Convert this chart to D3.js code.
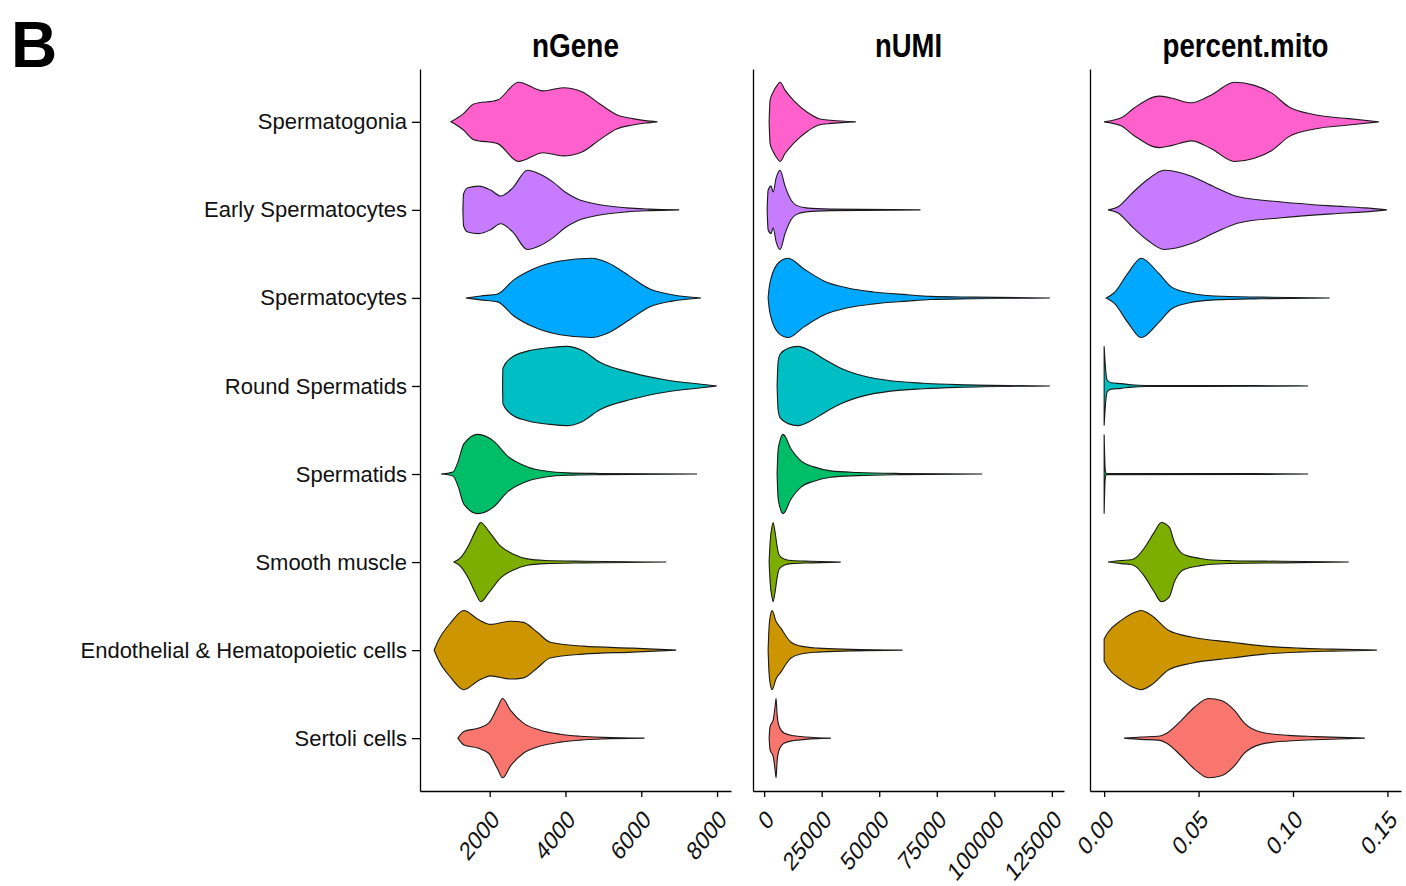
<!DOCTYPE html>
<html lang="en">
<head>
<meta charset="utf-8">
<style type="text/css">
    body { margin: 0; background: #fff; }
    svg { font-family: "Liberation Sans", Arial, sans-serif; }
    .violin { stroke: #1a1a1a; stroke-width: 1.1px; }
    .axis path, .axis line { stroke: #000; stroke-width: 1.3px; }
    .axis text { fill: #111; font-size: 22px; font-family: "Liberation Sans", Arial, sans-serif; }
    .axis.x text { font-size: 26px; }
    .title { font-weight: bold; font-family: "Liberation Sans Narrow", "Liberation Sans", Arial, sans-serif; }
</style>
</head>
<body>
<svg width="1406" height="886"></svg>
<script src="https://d3js.org/d3.v7.min.js"></script>
<script type="text/javascript">
    // cell types, top to bottom
    var categories = ["Spermatogonia", "Early Spermatocytes", "Spermatocytes", "Round Spermatids",
        "Spermatids", "Smooth muscle", "Endothelial & Hematopoietic cells", "Sertoli cells"];
    var colors = ["#FF61CC", "#C77CFF", "#00A9FF", "#00BFC4", "#00BE67", "#7CAE00", "#CD9600", "#F8766D"];

    var panelTitles = ["nGene", "nUMI", "percent.mito"];
    var nGeneTicks = [2000, 4000, 6000, 8000];
    var nUMITicks = [0, 25000, 50000, 75000, 100000, 125000];
    var mitoTicks = [0, 0.05, 0.10, 0.15];

    // violin outlines: [value, relative half-width]
    var nGeneProfiles = [
        [[979,0],[1300,0.2],[1581,0.45],[2209,0.55],[2759,1.0],[3414,0.78],[3937,0.86],[4435,0.76],[4906,0.45],[5351,0.18],[5770,0.08],[6100,0.03],[6424,0]],
        [[1293,0],[1310,0.4],[1424,0.56],[1712,0.6],[2026,0.5],[2288,0.35],[2602,0.55],[2995,1.0],[3335,0.9],[3675,0.7],[3990,0.45],[4304,0.28],[4906,0.13],[5613,0.05],[6215,0.02],[7000,0]],
        [[1372,0],[1764,0.05],[2209,0.1],[2628,0.45],[3152,0.73],[3859,0.93],[4697,1.0],[5090,0.9],[5692,0.55],[6215,0.23],[6817,0.08],[7576,0]],
        [[2340,0],[2350,0.45],[2550,0.7],[2995,0.88],[3597,0.97],[4042,1.0],[4435,0.9],[4906,0.6],[5770,0.33],[6660,0.15],[7524,0.05],[7995,0]],
        [[717,0],[1031,0.05],[1162,0.3],[1319,0.76],[1686,1.0],[2105,0.83],[2471,0.45],[2995,0.18],[3518,0.07],[4042,0.03],[4906,0.015],[7472,0]],
        [[1057,0],[1241,0.12],[1450,0.43],[1634,0.8],[1764,1.0],[1974,0.78],[2288,0.4],[2628,0.2],[2995,0.08],[3466,0.04],[4500,0.02],[6660,0]],
        [[534,0],[639,0.23],[979,0.7],[1319,1.0],[1686,0.78],[2026,0.65],[2550,0.73],[2890,0.7],[3257,0.45],[3597,0.2],[4461,0.1],[5770,0.05],[6922,0]],
        [[1162,0],[1319,0.17],[1686,0.25],[1974,0.38],[2209,0.78],[2340,1.0],[2550,0.7],[2890,0.38],[3335,0.2],[3859,0.1],[4382,0.05],[5000,0.02],[6084,0]]
    ];
    var nUMIProfiles = [
        [[2162,0],[2595,0.55],[3892,0.75],[5622,0.92],[6920,1.0],[9082,0.8],[12975,0.53],[19030,0.23],[23787,0.08],[28977,0.04],[39790,0]],
        [[1300,0],[1730,0.5],[3030,0.6],[3890,0.45],[5190,0.8],[6920,1.0],[9080,0.6],[11680,0.25],[13840,0.12],[18165,0.05],[28980,0.02],[67900,0]],
        [[1730,0],[2162,0.25],[3027,0.5],[6488,0.9],[10380,1.0],[17300,0.73],[25950,0.43],[36330,0.25],[47575,0.15],[62280,0.08],[72230,0.04],[90825,0.02],[124130,0]],
        [[5620,0],[6055,0.6],[6920,0.8],[10380,0.95],[14705,1.0],[20330,0.88],[26000,0.68],[33300,0.45],[43250,0.25],[54930,0.13],[69200,0.07],[83900,0.035],[124130,0]],
        [[5620,0],[6055,0.6],[6920,0.85],[8220,1.0],[11680,0.63],[16000,0.33],[21625,0.18],[28980,0.08],[40655,0.04],[59250,0.015],[94720,0]],
        [[2160,0],[2600,0.5],[3460,0.9],[3890,1.0],[4760,0.75],[5620,0.4],[6490,0.18],[8650,0.08],[11680,0.04],[20330,0.02],[33300,0]],
        [[1730,0],[2160,0.6],[3030,0.95],[3460,1.0],[5190,0.72],[7350,0.55],[9515,0.35],[11680,0.2],[16000,0.1],[23355,0.05],[37630,0.02],[60120,0]],
        [[2160,0],[2600,0.3],[3890,0.45],[4760,0.8],[5190,1.0],[5620,0.6],[6490,0.3],[8650,0.13],[12975,0.06],[18165,0.03],[28980,0]]
    ];
    var mitoProfiles = [
        [[0,0],[0.009,0.1],[0.0159,0.35],[0.0292,0.65],[0.0356,0.6],[0.0462,0.48],[0.0568,0.68],[0.069,1.0],[0.0796,0.92],[0.0886,0.73],[0.0977,0.38],[0.1115,0.18],[0.1295,0.08],[0.1454,0]],
        [[0.0021,0],[0.0074,0.08],[0.0143,0.4],[0.0234,0.78],[0.0318,1.0],[0.0462,0.85],[0.0584,0.58],[0.0711,0.33],[0.094,0.2],[0.1205,0.1],[0.138,0.05],[0.1497,0]],
        [[0.0011,0],[0.0053,0.13],[0.0127,0.63],[0.0196,1.0],[0.0287,0.63],[0.0356,0.28],[0.0446,0.13],[0.0584,0.05],[0.0833,0.02],[0.1194,0]],
        [[0,1.0],[0.0005,0.6],[0.0016,0.15],[0.0037,0.08],[0.009,0.06],[0.0143,0.03],[0.0223,0.012],[0.08,0.008],[0.108,0]],
        [[0,1.0],[0.0006,0.1],[0.0012,0.015],[0.08,0.01],[0.108,0]],
        [[0.0021,0],[0.009,0.04],[0.0143,0.06],[0.017,0.12],[0.0212,0.35],[0.0265,0.75],[0.0303,1.0],[0.0345,0.88],[0.0372,0.5],[0.0409,0.23],[0.0446,0.15],[0.0499,0.1],[0.0552,0.06],[0.0674,0.035],[0.094,0.02],[0.1295,0]],
        [[0,0.28],[0.0021,0.45],[0.009,0.75],[0.017,0.97],[0.0196,1.0],[0.025,0.88],[0.034,0.5],[0.0462,0.33],[0.0674,0.2],[0.0849,0.1],[0.103,0.05],[0.1205,0.025],[0.1444,0]],
        [[0.0106,0],[0.0196,0.03],[0.0287,0.05],[0.0329,0.12],[0.0409,0.45],[0.0478,0.78],[0.0552,1.0],[0.0621,0.95],[0.069,0.7],[0.0743,0.38],[0.0833,0.15],[0.0977,0.07],[0.1115,0.04],[0.138,0]]
    ];

    var svg = d3.select("svg");

    var panelTop = 69, panelBottom = 791;
    var panelLeft = [420, 753, 1090], panelWidth = 311;

    var y = d3.scalePoint()
        .domain(categories)
        .range([panelTop, panelBottom])
        .padding(0.6);
    var halfMax = 0.45 * y.step();

    var panels = [
        { title: panelTitles[0], profiles: nGeneProfiles, ticks: nGeneTicks, fmt: d3.format("d"), titleLen: 87 },
        { title: panelTitles[1], profiles: nUMIProfiles, ticks: nUMITicks, fmt: d3.format("d"), titleLen: 67 },
        { title: panelTitles[2], profiles: mitoProfiles, ticks: mitoTicks, fmt: d3.format(".2f"), titleLen: 166 }
    ];

    // big panel letter
    svg.append("text")
        .attr("x", 11)
        .attr("y", 67)
        .attr("font-size", 64)
        .attr("font-weight", "bold")
        .text("B");

    panels.forEach(function (p, pi) {
        var x0 = panelLeft[pi], x1 = x0 + panelWidth;

        // domain: data range expanded by 5% like ggplot
        var all = d3.merge(p.profiles).map(function (d) { return d[0]; });
        var lo = d3.min(all), hi = d3.max(all), pad = (hi - lo) * 0.05;
        var x = d3.scaleLinear().domain([lo - pad, hi + pad]).range([x0, x1]);

        var g = svg.append("g");

        var area = d3.area()
            .curve(d3.curveMonotoneX)
            .x(function (d) { return x(d[0]); });

        p.profiles.forEach(function (prof, i) {
            var cy = y(categories[i]);
            area.y0(function (d) { return cy - d[1] * halfMax; })
                .y1(function (d) { return cy + d[1] * halfMax; });
            g.append("path")
                .attr("class", "violin")
                .attr("fill", colors[i])
                .attr("d", area(prof));
        });

        // x axis, labels slanted (figure was squeezed sideways)
        var xAxis = g.append("g")
            .attr("class", "axis x")
            .attr("transform", "translate(0," + panelBottom + ")")
            .call(d3.axisBottom(x).tickValues(p.ticks).tickFormat(p.fmt).tickSize(6).tickSizeOuter(0));
        xAxis.selectAll("text")
            .attr("x", 0)
            .attr("y", 0)
            .attr("dy", "0.71em")
            .attr("text-anchor", "end")
            .attr("transform", "translate(0,17) scale(0.8,1) rotate(-45)");

        // y axis
        var yAxis = d3.axisLeft(y);
        if (pi === 0) {
            yAxis.tickSize(8).tickPadding(5);
        } else {
            yAxis.tickValues([]);
        }
        yAxis.tickSizeOuter(0);
        g.append("g")
            .attr("class", "axis")
            .attr("transform", "translate(" + x0 + ",0)")
            .call(yAxis);

        g.append("text")
            .attr("class", "title")
            .attr("x", (x0 + x1) / 2)
            .attr("y", 57)
            .attr("text-anchor", "middle")
            .attr("font-size", 33)
            .attr("textLength", p.titleLen)
            .attr("lengthAdjust", "spacingAndGlyphs")
            .text(p.title);
    });
</script>
</body>
</html>
